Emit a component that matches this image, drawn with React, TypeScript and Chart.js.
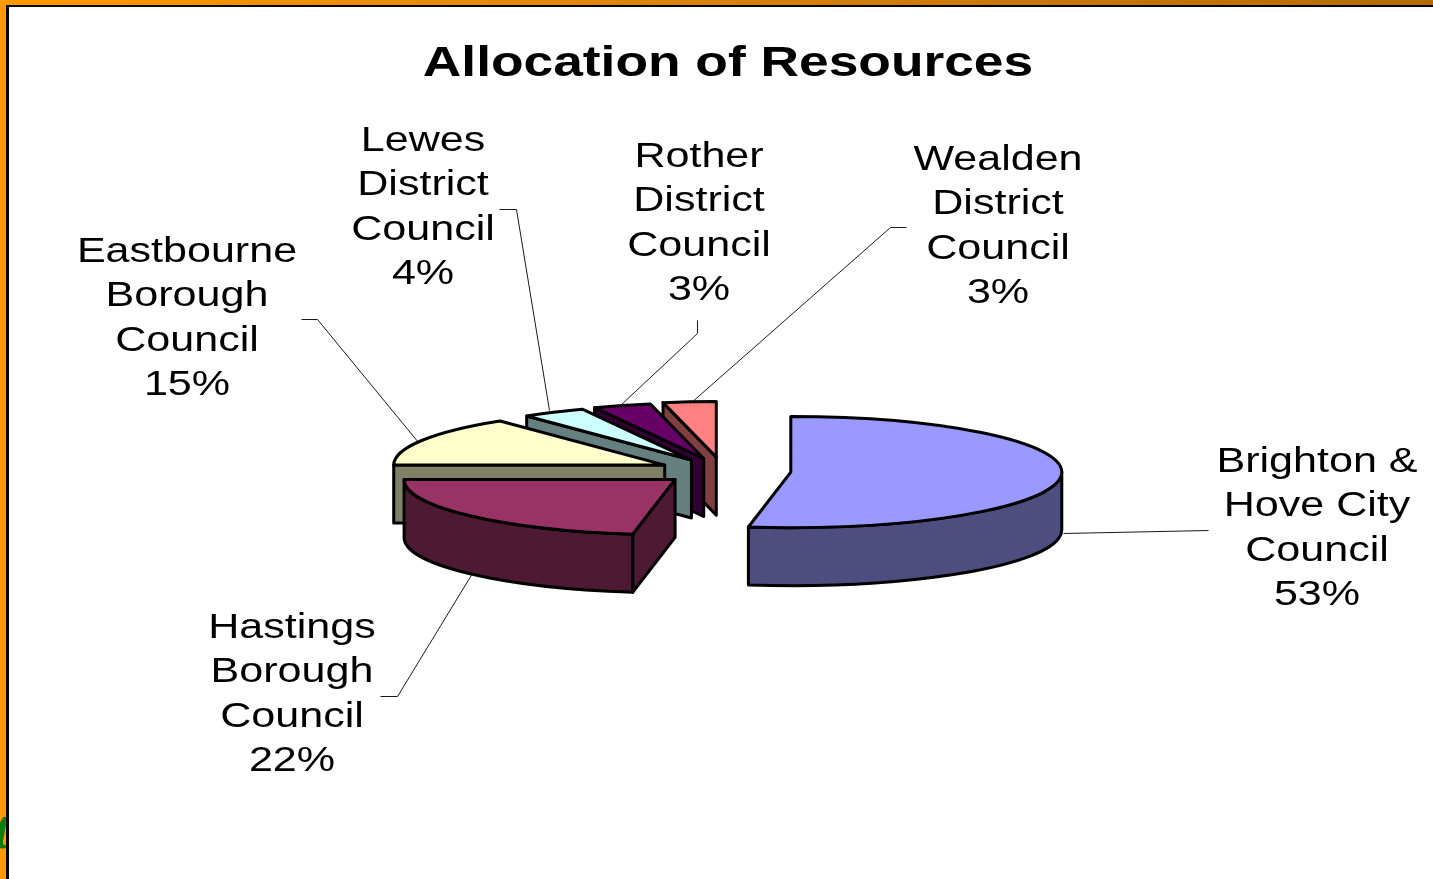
import React, { useEffect, useRef } from "react";
import { Chart, registerables } from "chart.js";

Chart.register(...registerables);

const TITLE = "Allocation of Resources";
const categories = [
  "Brighton & Hove City Council",
  "Hastings Borough Council",
  "Eastbourne Borough Council",
  "Lewes District Council",
  "Rother District Council",
  "Wealden District Council",
];
// shares; the printed labels are the rounded figures
const shares = [52.5, 22.5, 14.6, 3.8, 3.45, 3.15];
const printedPercents = [53, 22, 15, 4, 3, 3];
const labelLines = [
  ["Brighton &", "Hove City", "Council"],
  ["Hastings", "Borough", "Council"],
  ["Eastbourne", "Borough", "Council"],
  ["Lewes", "District", "Council"],
  ["Rother", "District", "Council"],
  ["Wealden", "District", "Council"],
];
const topColors = ["#9999ff", "#993366", "#ffffcc", "#ccffff", "#660066", "#ff8080"];
const sideColors = ["#4d4d80", "#4d1933", "#808066", "#668080", "#330033", "#804040"];

// layout
const W = 1433;
const H = 879;
const CX = 723;
const CY = 471;
const RADIUS = 271;
const SQUASH = 0.205;
const DEPTH = 58;
const EXPLODE = [68, 63, 65, 62, 64, 68];
const LABEL_POS: [number, number][] = [
  [1317, 462],
  [292, 628],
  [187, 252],
  [423, 141],
  [699, 157],
  [998, 160],
];
const LEADERS: [number, number][][] = [
  [[1208, 530], [1063, 533]],
  [[380, 696], [397, 696], [472, 573]],
  [[301, 319], [317, 319], [418, 442]],
  [[499, 209], [516, 209], [549, 410]],
  [[697, 320], [697, 333], [620, 405]],
  [[906, 227], [890, 227], [690, 403]],
];

const piePlugin = {
  id: "pie3d",
  beforeDraw(chart: any) {
    const ctx = chart.ctx;
    ctx.save();
    ctx.fillStyle = "#ffffff";
    ctx.fillRect(0, 0, W, H);
    ctx.fillStyle = "#ff9900";
    ctx.fillRect(0, 0, 6, H);
    const g = ctx.createLinearGradient(0, 0, W, 0);
    g.addColorStop(0, "#ff9900");
    g.addColorStop(1, "#b36b00");
    ctx.fillStyle = g;
    ctx.fillRect(0, 0, W, 5);
    ctx.fillStyle = "#000000";
    ctx.fillRect(6, 5, W - 6, 2);
    ctx.fillRect(6, 5, 3, H - 5);
    // clipped letter from the slide behind
    ctx.beginPath();
    ctx.rect(0, 800, 6, 79);
    ctx.clip();
    ctx.fillStyle = "#0a7d0a";
    ctx.font = "italic bold 54px 'Liberation Serif'";
    ctx.textAlign = "left";
    ctx.textBaseline = "alphabetic";
    ctx.fillText("t", -6, 848);
    ctx.restore();
  },
  beforeDatasetDraw(chart: any, args: any) {
    const ctx = chart.ctx;
    const arcs = chart.getDatasetMeta(args.index).data;
    for (let i = arcs.length - 1; i >= 0; i--) {
      const arc = arcs[i];
      const mid = (arc.startAngle + arc.endAngle) / 2;
      const off = EXPLODE[i];
      const ax = arc.x + Math.cos(mid) * off;
      const ay = arc.y + Math.sin(mid) * off * SQUASH;
      const r = arc.outerRadius;
      const px = (a: number) => ax + Math.cos(a) * r;
      const py = (a: number) => ay + Math.sin(a) * r * SQUASH;
      ctx.save();
      ctx.lineWidth = 3;
      ctx.lineJoin = "round";
      ctx.strokeStyle = "#000000";
      ctx.fillStyle = sideColors[i];
      // radial wall at the start edge, when it faces the viewer
      const s = arc.startAngle;
      if (Math.cos(s) < -1e-6) {
        ctx.beginPath();
        ctx.moveTo(ax, ay);
        ctx.lineTo(px(s), py(s));
        ctx.lineTo(px(s), py(s) + DEPTH);
        ctx.lineTo(ax, ay + DEPTH);
        ctx.closePath();
        ctx.fill();
        ctx.stroke();
      }
      // outer rim, visible on the front half only
      const a0 = Math.max(arc.startAngle, 0);
      const a1 = Math.min(arc.endAngle, Math.PI);
      if (a1 > a0) {
        ctx.beginPath();
        ctx.ellipse(ax, ay, r, r * SQUASH, 0, a0, a1, false);
        ctx.lineTo(px(a1), py(a1) + DEPTH);
        ctx.ellipse(ax, ay + DEPTH, r, r * SQUASH, 0, a1, a0, true);
        ctx.closePath();
        ctx.fill();
        ctx.stroke();
      }
      // the library's own arc as the top face
      ctx.save();
      ctx.translate(ax, ay);
      ctx.scale(1, SQUASH);
      ctx.translate(-arc.x, -arc.y);
      arc.draw(ctx);
      ctx.restore();
      ctx.beginPath();
      ctx.moveTo(ax, ay);
      ctx.ellipse(ax, ay, r, r * SQUASH, 0, arc.startAngle, arc.endAngle, false);
      ctx.closePath();
      ctx.stroke();
      ctx.restore();
    }
    return false;
  },
  afterDraw(chart: any) {
    const ctx = chart.ctx;
    ctx.save();
    // leader lines
    ctx.strokeStyle = "#1a1a1a";
    ctx.lineWidth = 1;
    LEADERS.forEach((pts) => {
      ctx.beginPath();
      pts.forEach(([x, y], k) => (k ? ctx.lineTo(x + 0.5, y + 0.5) : ctx.moveTo(x + 0.5, y + 0.5)));
      ctx.stroke();
    });
    // stretched text
    ctx.fillStyle = "#000000";
    ctx.textAlign = "center";
    ctx.textBaseline = "middle";
    const put = (text: string, x: number, y: number, sx: number) => {
      ctx.save();
      ctx.translate(x, y);
      ctx.scale(sx, 1);
      ctx.fillText(text, 0, 0);
      ctx.restore();
    };
    ctx.font = "bold 43px 'Liberation Sans'";
    put(TITLE, 728, 64, 1.24);
    ctx.font = "35px 'Liberation Sans'";
    categories.forEach((_, i) => {
      const [x, y] = LABEL_POS[i];
      const lines = [...labelLines[i], `${printedPercents[i]}%`];
      lines.forEach((line, k) => put(line, x, y + k * 44.6, 1.23));
    });
    ctx.restore();
  },
};

export default function App() {
  const ref = useRef<HTMLCanvasElement>(null);
  useEffect(() => {
    const chart = new Chart(ref.current as HTMLCanvasElement, {
      type: "pie",
      data: {
        labels: categories,
        datasets: [
          {
            data: shares,
            backgroundColor: topColors,
            borderWidth: 0,
            radius: RADIUS,
          } as any,
        ],
      },
      options: {
        animation: false,
        responsive: false,
        devicePixelRatio: 1,
        events: [],
        layout: { padding: { left: 2 * CX - W, top: 2 * CY - H, right: 0, bottom: 0 } },
        plugins: { legend: { display: false }, tooltip: { enabled: false }, title: { display: false } },
      },
      plugins: [piePlugin],
    } as any);
    return () => chart.destroy();
  }, []);
  return (
    <div style={{ position: "fixed", left: 0, top: 0, width: W, height: H, overflow: "hidden" }}>
      <canvas ref={ref} width={W} height={H} style={{ display: "block" }} />
    </div>
  );
}
